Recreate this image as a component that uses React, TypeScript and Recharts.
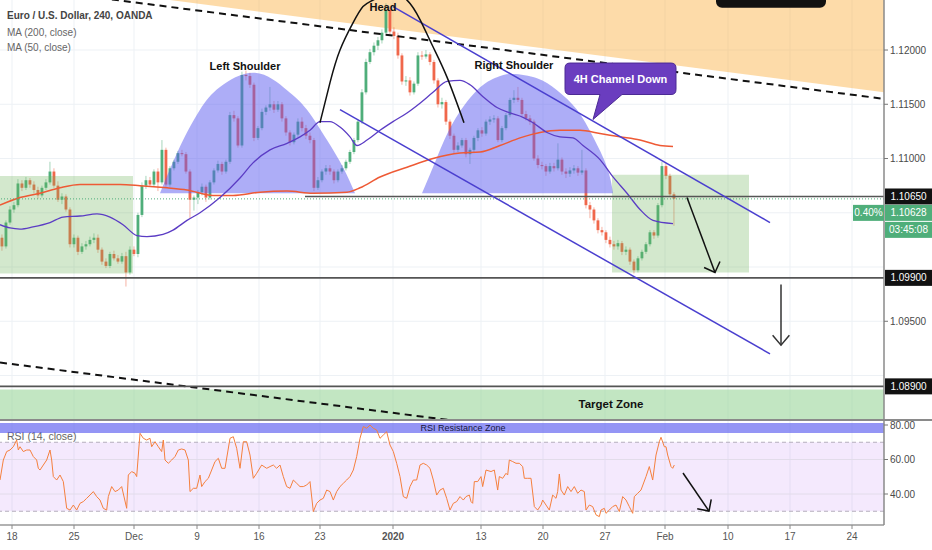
import React from "react";
import {
  Area,
  Bar,
  ComposedChart,
  Line,
  ReferenceArea,
  ReferenceDot,
  ReferenceLine,
  XAxis,
  YAxis,
} from "recharts";

const FONT = '"Liberation Sans", Arial, sans-serif';
const UP = "#4fae7a";
const DOWN = "#f0674b";
const X_DOMAIN: [number, number] = [-0.5, 220.5];
const PRICE_DOMAIN: [number, number] = [1.0859, 1.12461];
const RSI_DOMAIN: [number, number] = [22.03, 82.9];

// one candle = two 4H bars, [open, high, low, close]
const ohlc: [number, number, number, number][] = [
  [1.1027, 1.103, 1.1015, 1.1019], [1.1019, 1.1043, 1.1017, 1.1041], [1.1041, 1.1056, 1.1039, 1.1053],
  [1.1053, 1.106, 1.105, 1.1057], [1.1057, 1.1081, 1.1055, 1.1077], [1.1077, 1.108, 1.107, 1.1073],
  [1.1073, 1.1083, 1.1071, 1.108], [1.108, 1.1082, 1.1073, 1.1076], [1.1076, 1.1079, 1.1068, 1.1071],
  [1.1071, 1.1074, 1.1063, 1.1066], [1.1066, 1.1075, 1.1064, 1.1073], [1.1073, 1.1081, 1.1071, 1.1078],
  [1.1078, 1.1097, 1.1076, 1.1088], [1.1088, 1.1091, 1.1073, 1.1075], [1.1075, 1.1079, 1.106, 1.1062],
  [1.1062, 1.1068, 1.1058, 1.1065], [1.1065, 1.1067, 1.1051, 1.1053], [1.1053, 1.1055, 1.1018, 1.1021],
  [1.1021, 1.103, 1.1018, 1.1027], [1.1027, 1.1029, 1.1011, 1.1014], [1.1014, 1.1022, 1.1012, 1.1019],
  [1.1019, 1.1024, 1.1016, 1.1021], [1.1021, 1.1028, 1.1019, 1.1025], [1.1025, 1.1031, 1.1022, 1.1027],
  [1.1027, 1.103, 1.1013, 1.1016], [1.1016, 1.1018, 1.1002, 1.1005], [1.1005, 1.1008, 1.0999, 1.1001],
  [1.1001, 1.1014, 1.0999, 1.1012], [1.1012, 1.1015, 1.1006, 1.1008], [1.1008, 1.1011, 1.1003, 1.1005],
  [1.1005, 1.1013, 1.1003, 1.101], [1.101, 1.1014, 1.0982, 1.0995], [1.0995, 1.1019, 1.0993, 1.1016],
  [1.1016, 1.1019, 1.101, 1.1012], [1.1012, 1.105, 1.1009, 1.1048], [1.1048, 1.1078, 1.1046, 1.1075],
  [1.1075, 1.1084, 1.1072, 1.108], [1.108, 1.1083, 1.1074, 1.1076], [1.1076, 1.109, 1.1074, 1.1088],
  [1.1088, 1.1091, 1.107, 1.1078], [1.1078, 1.1117, 1.1076, 1.1108], [1.1108, 1.111, 1.1074, 1.1076],
  [1.1076, 1.1093, 1.1074, 1.1091], [1.1091, 1.1099, 1.1089, 1.1097], [1.1097, 1.1107, 1.1095, 1.1105],
  [1.1105, 1.1108, 1.1102, 1.1104], [1.1104, 1.1106, 1.1086, 1.1088], [1.1088, 1.109, 1.1045, 1.1062],
  [1.1062, 1.1066, 1.1052, 1.1064], [1.1064, 1.1071, 1.1058, 1.1069], [1.1069, 1.1077, 1.1066, 1.1074],
  [1.1074, 1.1076, 1.106, 1.1064], [1.1064, 1.108, 1.1062, 1.1078], [1.1078, 1.1091, 1.1076, 1.1089],
  [1.1089, 1.1098, 1.1087, 1.1095], [1.1095, 1.1097, 1.1085, 1.1088], [1.1088, 1.1099, 1.1086, 1.1097],
  [1.1097, 1.1143, 1.1095, 1.114], [1.114, 1.1144, 1.1134, 1.1137], [1.1137, 1.1139, 1.111, 1.1112],
  [1.1112, 1.118, 1.111, 1.1177], [1.1177, 1.1181, 1.1172, 1.1176], [1.1176, 1.1179, 1.1165, 1.1168],
  [1.1168, 1.117, 1.1116, 1.1119], [1.1119, 1.113, 1.1117, 1.1128], [1.1128, 1.1146, 1.1126, 1.1143],
  [1.1143, 1.1149, 1.114, 1.1147], [1.1147, 1.1166, 1.1144, 1.115], [1.115, 1.1153, 1.1142, 1.1145],
  [1.1145, 1.1153, 1.1143, 1.115], [1.115, 1.1152, 1.1134, 1.1137], [1.1137, 1.1139, 1.1121, 1.1124],
  [1.1124, 1.1126, 1.1112, 1.1115], [1.1115, 1.1124, 1.1113, 1.1122], [1.1122, 1.1137, 1.112, 1.1134],
  [1.1134, 1.1138, 1.1125, 1.1128], [1.1128, 1.1131, 1.1118, 1.1121], [1.1121, 1.1124, 1.1114, 1.1117],
  [1.1117, 1.1119, 1.107, 1.1073], [1.1073, 1.1083, 1.1071, 1.108], [1.108, 1.109, 1.1078, 1.1088],
  [1.1088, 1.1094, 1.1085, 1.1091], [1.1091, 1.1094, 1.1085, 1.1088], [1.1088, 1.109, 1.1077, 1.108],
  [1.108, 1.109, 1.1078, 1.1088], [1.1088, 1.1094, 1.1086, 1.1091], [1.1091, 1.1099, 1.1089, 1.1097],
  [1.1097, 1.1108, 1.1095, 1.1106], [1.1106, 1.1119, 1.1104, 1.1117], [1.1117, 1.1136, 1.1115, 1.1134],
  [1.1134, 1.1164, 1.1132, 1.1161], [1.1161, 1.1192, 1.1159, 1.1189], [1.1189, 1.1201, 1.1187, 1.1198],
  [1.1198, 1.1207, 1.1195, 1.1204], [1.1204, 1.1212, 1.12, 1.1209], [1.1209, 1.1219, 1.1206, 1.1216],
  [1.1216, 1.1243, 1.1214, 1.1237], [1.1237, 1.124, 1.1214, 1.1217], [1.1217, 1.1221, 1.121, 1.1213],
  [1.1213, 1.1216, 1.1192, 1.1195], [1.1195, 1.1197, 1.1168, 1.1171], [1.1171, 1.1176, 1.1167, 1.1172],
  [1.1172, 1.1175, 1.1158, 1.1161], [1.1161, 1.1171, 1.1159, 1.1169], [1.1169, 1.1198, 1.1167, 1.1195],
  [1.1195, 1.1199, 1.1191, 1.1194], [1.1194, 1.12, 1.1192, 1.1196], [1.1196, 1.1198, 1.1186, 1.1189],
  [1.1189, 1.1191, 1.1169, 1.1172], [1.1172, 1.1174, 1.1147, 1.115], [1.115, 1.1156, 1.1146, 1.1152],
  [1.1152, 1.1154, 1.1131, 1.1134], [1.1134, 1.1136, 1.1118, 1.1121], [1.1121, 1.1123, 1.1105, 1.1108],
  [1.1108, 1.1115, 1.1106, 1.1112], [1.1112, 1.1119, 1.111, 1.1117], [1.1117, 1.1119, 1.1101, 1.1104],
  [1.1104, 1.111, 1.1095, 1.1108], [1.1108, 1.1121, 1.1106, 1.1119], [1.1119, 1.1128, 1.1116, 1.1126],
  [1.1126, 1.1129, 1.112, 1.1123], [1.1123, 1.1136, 1.1121, 1.1134], [1.1134, 1.1139, 1.1131, 1.1136],
  [1.1136, 1.114, 1.1133, 1.1137], [1.1137, 1.1139, 1.1115, 1.1117], [1.1117, 1.113, 1.1115, 1.1128],
  [1.1128, 1.1142, 1.1126, 1.114], [1.114, 1.1156, 1.1138, 1.1154], [1.1154, 1.1163, 1.1151, 1.1156],
  [1.1156, 1.1166, 1.1152, 1.1154], [1.1154, 1.1156, 1.1139, 1.1141], [1.1141, 1.1144, 1.1135, 1.1137],
  [1.1137, 1.114, 1.1131, 1.1134], [1.1134, 1.1136, 1.1098, 1.11], [1.11, 1.1103, 1.1091, 1.1094],
  [1.1094, 1.1097, 1.109, 1.1093], [1.1093, 1.1095, 1.1084, 1.1088], [1.1088, 1.1096, 1.1086, 1.1093],
  [1.1093, 1.1096, 1.1088, 1.1091], [1.1091, 1.1114, 1.1089, 1.1099], [1.1099, 1.1101, 1.1085, 1.1088],
  [1.1088, 1.1091, 1.1082, 1.1086], [1.1086, 1.1092, 1.1083, 1.1089], [1.1089, 1.1094, 1.1086, 1.1091],
  [1.1091, 1.1093, 1.1084, 1.1087], [1.1087, 1.1108, 1.1085, 1.1089], [1.1089, 1.1091, 1.1054, 1.1057],
  [1.1057, 1.106, 1.1045, 1.1053], [1.1053, 1.1055, 1.104, 1.1043], [1.1043, 1.1045, 1.1031, 1.1034],
  [1.1034, 1.1037, 1.1029, 1.1032], [1.1032, 1.1034, 1.1022, 1.1025], [1.1025, 1.1028, 1.1018, 1.1021],
  [1.1021, 1.1024, 1.1016, 1.1019], [1.1019, 1.1025, 1.1016, 1.1022], [1.1022, 1.1024, 1.1011, 1.1014],
  [1.1014, 1.1019, 1.1011, 1.1016], [1.1016, 1.1018, 1.1002, 1.1005], [1.1005, 1.1007, 1.0994, 1.0997],
  [1.0997, 1.101, 1.0995, 1.1008], [1.1008, 1.1016, 1.1006, 1.1014], [1.1014, 1.1023, 1.1012, 1.1021],
  [1.1021, 1.1034, 1.1019, 1.1032], [1.1032, 1.1034, 1.1026, 1.1029], [1.1029, 1.1059, 1.1027, 1.1057],
  [1.1057, 1.1097, 1.1055, 1.1093], [1.1093, 1.1096, 1.1081, 1.1084], [1.1084, 1.1086, 1.1065, 1.1067],
  [1.1067, 1.1069, 1.1038, 1.1063],
];

// [candle index, value]
const ma200: [number, number][] = [
  [-0.5, 1.1057], [4.5, 1.1064], [9.5, 1.1068], [14.5, 1.1073], [19.5, 1.1076], [24.5, 1.1076],
  [29.5, 1.1076], [34.5, 1.1075], [41.25, 1.1073], [46.25, 1.1071], [52.75, 1.1066], [57.75, 1.1066],
  [64.5, 1.1069], [71.25, 1.107], [77.75, 1.1068], [86.25, 1.1069], [89.5, 1.1073], [94.5, 1.1083],
  [101.25, 1.1092], [107.75, 1.11], [114.5, 1.1105], [119.5, 1.1106], [124.5, 1.1112], [129.5, 1.1119],
  [134.5, 1.1124], [139.5, 1.1126], [144.5, 1.1126], [149.5, 1.1123], [154.5, 1.112], [159.5, 1.1117],
  [164.5, 1.1112], [167.75, 1.1111],
];

const ma50: [number, number][] = [
  [-0.5, 1.1039], [2, 1.1036], [4.5, 1.1035], [7.75, 1.1037], [12, 1.1041], [15.25, 1.1046],
  [19.5, 1.1047], [23.75, 1.1049], [27, 1.1046], [30.25, 1.1039], [33.75, 1.1029], [36.25, 1.1028],
  [40.25, 1.103], [42.75, 1.1034], [46.25, 1.1043], [49.5, 1.105], [54.5, 1.1064], [59.5, 1.1082],
  [62.75, 1.1096], [67, 1.1108], [71.25, 1.1114], [74.5, 1.112], [77, 1.1126], [79.5, 1.1134],
  [82, 1.1134], [84.5, 1.1129], [87, 1.112], [88.75, 1.1112], [91.25, 1.1117], [94.5, 1.1126],
  [97.75, 1.1134], [101.25, 1.1142], [104.5, 1.1151], [107.75, 1.1161], [111.25, 1.1171], [114.5, 1.1172],
  [117, 1.1168], [120.25, 1.1157], [123.75, 1.1147], [127, 1.1142], [130.25, 1.1138], [132.75, 1.1133],
  [136.25, 1.1124], [139.5, 1.112], [142.75, 1.1119], [145.25, 1.1112], [149.5, 1.1099], [152.75, 1.1083],
  [156.25, 1.1068], [159.5, 1.1053], [162.75, 1.1043], [167.75, 1.104],
];

const rsi14: [number, number][] = [
  [-0.5, 48.1], [0.33, 59.7], [1.17, 64.6], [2, 65.5], [2.83, 67.4], [3.67, 71.3], [4.08, 65.5], [4.5, 67.4],
  [5.33, 64.6], [6.17, 65.5], [7, 65.5], [7.83, 61.7], [8.67, 59.7], [9.08, 54.9], [9.5, 53.9], [10.33, 56.8],
  [11.17, 59.7], [12, 65.5], [12.42, 59.7], [12.83, 50.1], [13.67, 48.1], [14.5, 51], [15.33, 47.2],
  [16.17, 31.7], [17, 30.7], [17.83, 33.6], [18.67, 30.7], [19.5, 34.6], [20.33, 35.6], [21.17, 37.5],
  [22, 39.4], [22.83, 41.4], [23.67, 38.5], [24.5, 36.5], [25.33, 31.7], [26.17, 30.7], [26.58, 38.5],
  [27.42, 44.3], [28.25, 41.4], [29.08, 42.3], [29.92, 44.3], [31.17, 31.7], [31.58, 51], [32.42, 53],
  [33.25, 52], [33.67, 50.1], [34.5, 75.2], [35.33, 72.3], [36.17, 71.3], [37, 72.3], [37.42, 67.4],
  [38.25, 70.3], [39.08, 67.4], [39.92, 64.6], [40.33, 71.3], [40.75, 59.7], [41.58, 57.8], [42.42, 59.7],
  [43.25, 61.7], [44.08, 65.5], [44.92, 66.1], [45.75, 65.5], [46.58, 59.7], [47, 41.4], [47.83, 43.3],
  [48.67, 43.3], [49.5, 51], [49.92, 44.3], [50.75, 47.2], [51.58, 49.1], [52.42, 53.9], [53.25, 58.8],
  [54.08, 60.7], [54.92, 54.9], [55.75, 54.9], [57, 72.3], [57.83, 73.2], [58.67, 66.5], [59.5, 54.9],
  [60.33, 70.3], [61.17, 70.3], [62, 62.6], [62.83, 49.1], [63.67, 52], [64.92, 56.8], [66.17, 54.9],
  [67, 55.9], [67.83, 56.8], [68.67, 54.9], [69.5, 56.8], [70.33, 50.1], [71.17, 44.3], [72, 43.3],
  [72.83, 48.1], [73.67, 46.2], [74.5, 44.3], [75.33, 44.3], [76.17, 45.2], [77, 47.2], [77.83, 29.8],
  [78.67, 34.6], [79.5, 36.5], [80.33, 37.5], [81.17, 42.3], [82, 41.4], [82.83, 36.5], [83.67, 41.4],
  [84.5, 44.3], [85.33, 46.2], [86.17, 48.1], [87, 50.1], [87.83, 53.9], [88.67, 61.7], [89.5, 72.3],
  [90.33, 79.1], [91.17, 78.1], [92, 80], [92.83, 78.1], [93.67, 77.1], [94.5, 72.3], [95.33, 74.2],
  [96.17, 76.1], [97, 68.4], [97.83, 64.6], [98.67, 57.8], [99.5, 50.1], [100.33, 38.5], [101.17, 37.5],
  [102, 44.3], [102.83, 48.1], [103.67, 48.1], [104.5, 56.8], [105.33, 57.8], [106.17, 56.8], [107, 54.9],
  [107.83, 48.1], [108.67, 39.4], [109.5, 42.3], [110.33, 43.3], [111.17, 37.5], [112, 30.7], [112.83, 34.6],
  [113.67, 35.6], [114.5, 38.5], [115.33, 36.5], [116, 38.5], [116.83, 39.4], [117.25, 35.6], [117.67, 34.6],
  [118.08, 47.2], [118.92, 47.2], [119.75, 50.1], [120.17, 44.3], [121, 53.9], [122.25, 53], [123.08, 53.9],
  [123.92, 42.3], [124.33, 50.1], [125.17, 49.1], [126, 52], [126.42, 51], [126.83, 59.7], [127.67, 58.8],
  [128.5, 57.8], [129.33, 57.8], [130.17, 55.9], [130.58, 49.1], [131.42, 49.1], [132.25, 49.1],
  [133.08, 32.7], [133.92, 30.7], [134.75, 33.6], [135.17, 36.5], [136, 33.6], [136.83, 30.7], [137.67, 39.4],
  [138.5, 37.5], [138.92, 41.4], [139.33, 51.6], [139.75, 42.3], [140.58, 39.4], [141.42, 44.3],
  [142.25, 41.4], [143.08, 44.3], [143.92, 40.4], [144.75, 42.3], [145.58, 41.4], [146, 30.7], [146.83, 33.6],
  [147.67, 32.7], [148.5, 27.9], [149.33, 26.9], [149.75, 30.7], [150.58, 31.7], [151, 28.8], [151.83, 30.7],
  [152.67, 32.7], [153.5, 33.6], [154.33, 29.8], [155.17, 38.5], [156, 36.5], [156.83, 32.7], [157.67, 28.8],
  [158.08, 38.5], [158.92, 40.4], [159.75, 42.3], [161, 50.1], [161.83, 55.9], [162.67, 48.1], [163.5, 62.6],
  [164.33, 70.3], [164.75, 72.9], [165.58, 67.4], [166, 67.4], [166.42, 62.6], [167.25, 55.9], [167.67, 54.9],
  [168.08, 56.8],
];

// head and shoulders drawing
const leftShoulder: [number, number][] = [
  [39.5, 1.1068], [44.5, 1.1111], [49.5, 1.1145], [54.5, 1.1166], [63.25, 1.1179], [71.25, 1.1163],
  [76.25, 1.1145], [81.25, 1.1117], [85.25, 1.1092], [88.25, 1.1068],
];
const rightShoulder: [number, number][] = [
  [105, 1.1068], [108.75, 1.1101], [112.75, 1.1133], [118.75, 1.1163], [123.75, 1.1175], [127.75, 1.1178],
  [133.75, 1.1174], [138.75, 1.1163], [143.75, 1.1145], [147.75, 1.112], [151.25, 1.1092], [152.75, 1.1068],
];
const headArc: [number, number][] = [
  [79.5, 1.1133], [82, 1.117], [84.5, 1.12], [87.75, 1.1225], [90.25, 1.124], [92.75, 1.1246],
  [97, 1.1252], [101.25, 1.1246], [104.5, 1.1228], [107.75, 1.1203], [111.25, 1.1175], [115.5, 1.1133],
];
const SHOULDER_BASE = 1.1068;

const dateTicks = [2.5, 18, 33, 48.75, 64.25, 79.5, 97.75, 119.75, 135.25, 150.75, 165.75, 181.5, 197, 212.5];
const dateLabels = ["18", "25", "Dec", "9", "16", "23", "2020", "13", "20", "27", "Feb", "10", "17", "24"];
const priceTicks = [1.095, 1.11, 1.115, 1.12];
const priceGrid = [1.09, 1.095, 1.1, 1.105, 1.11, 1.115, 1.12];
const rsiTicks = [40, 60, 80];

const candles = ohlc.map(([o, h, l, c], i) => ({ i, o, h, l, c, range: [l, h] }));
const toPoints = (rows: [number, number][]) => rows.map(([i, v]) => ({ i, v }));

const Candle = (props: any) => {
  const { x, y, width, height, payload } = props;
  if (!payload || height == null) return null;
  const { o, h, l, c } = payload;
  const color = c >= o ? UP : DOWN;
  const k = height / (h - l || 1e-9);
  const top = y + (h - Math.max(o, c)) * k;
  const bot = y + (h - Math.min(o, c)) * k;
  const cx = x + width / 2;
  return (
    <g>
      <line x1={cx} x2={cx} y1={y} y2={y + height} stroke={color} strokeOpacity={0.5} strokeWidth={1} />
      <rect x={cx - 1.4} y={top} width={2.8} height={Math.max(1, bot - top)} fill={color} />
    </g>
  );
};

const arrowShape = (len: number, spread: number) => (p: any) => {
  const { x1, y1, x2, y2, stroke, strokeWidth } = p;
  const a = Math.atan2(y2 - y1, x2 - x1);
  const hx1 = x2 - len * Math.cos(a - spread);
  const hy1 = y2 - len * Math.sin(a - spread);
  const hx2 = x2 - len * Math.cos(a + spread);
  const hy2 = y2 - len * Math.sin(a + spread);
  return (
    <g stroke={stroke} strokeWidth={strokeWidth} fill="none">
      <line x1={x1} y1={y1} x2={x2} y2={y2} />
      <polyline points={`${hx1},${hy1} ${x2},${y2} ${hx2},${hy2}`} />
    </g>
  );
};

const textShape =
  (text: string, size: number, weight: number, color: string, anchor = "middle") =>
  (p: any) => (
    <text
      x={p.cx}
      y={p.cy}
      textAnchor={anchor}
      dominantBaseline="central"
      fontSize={size}
      fontWeight={weight}
      fill={color}
      fontFamily={FONT}
    >
      {text}
    </text>
  );

const tagShape =
  (text: string, bg: string, dy = 0, left = false) =>
  (p: any) => {
    const w = left ? 31 : 47;
    const x = left ? p.cx - 31 : p.cx + 1;
    const y = p.cy + dy - 8;
    return (
      <g>
        <rect x={x} y={y} width={w} height={16} fill={bg} />
        <text
          x={x + w / 2}
          y={y + 8}
          textAnchor="middle"
          dominantBaseline="central"
          fontSize={10}
          fill="#fff"
          fontFamily={FONT}
        >
          {text}
        </text>
      </g>
    );
  };

const CalloutShape = (p: any) => {
  const { x, y, width: w, height: h } = p;
  const r = 5;
  const d = `M${x + r},${y} H${x + w - r} Q${x + w},${y} ${x + w},${y + r} V${y + h - r} Q${x + w},${y + h} ${
    x + w - r
  },${y + h} H${x + 57} L${x + 28},${y + h + 25} L${x + 35},${y + h} H${x + r} Q${x},${y + h} ${x},${
    y + h - r
  } V${y + r} Q${x},${y} ${x + r},${y} Z`;
  return (
    <g>
      <path d={d} fill="#6a3dbf" stroke="#4b2a94" strokeWidth={1} />
      <text
        x={x + w / 2}
        y={y + h / 2}
        textAnchor="middle"
        dominantBaseline="central"
        fontSize={11}
        fontWeight={700}
        fill="#fff"
        fontFamily={FONT}
      >
        4H Channel Down
      </text>
    </g>
  );
};

const BannerShape = (p: any) => (
  <rect x={p.x} y={p.y - 10} width={p.width} height={p.height + 10} rx={6} fill="#111" />
);

const DateTick = (p: any) => {
  const { x, y, payload } = p;
  const label = dateLabels[dateTicks.indexOf(payload.value)] ?? "";
  return (
    <text
      x={x}
      y={y + 9}
      textAnchor="middle"
      fontSize={10}
      fill="#555"
      fontWeight={label === "2020" ? 700 : 400}
      fontFamily={FONT}
    >
      {label}
    </text>
  );
};

const GRID = "#edf1f5";

export default function App() {
  return (
    <div
      style={{
        position: "absolute",
        left: 0,
        top: 0,
        width: 932,
        height: 550,
        background: "#fff",
        fontFamily: FONT,
        overflow: "hidden",
      }}
    >
      <div style={{ position: "absolute", left: 0, top: 0 }}>
        <ComposedChart width={932} height={420} data={candles} margin={{ top: 0, right: 0, bottom: 0, left: 0 }}>
          <XAxis type="number" dataKey="i" domain={X_DOMAIN} allowDataOverflow hide />
          <YAxis
            orientation="right"
            width={48}
            type="number"
            domain={PRICE_DOMAIN}
            allowDataOverflow
            ticks={priceTicks}
            interval={0}
            tickFormatter={(v: number) => v.toFixed(5)}
            tick={{ fontSize: 10, fill: "#4a4a4a" }}
            tickSize={4}
            tickLine={{ stroke: "#777" }}
            axisLine={{ stroke: "#8a8a8a", strokeWidth: 1.5 }}
          />
          {dateTicks.map((t) => (
            <ReferenceLine key={`vx${t}`} x={t} stroke={GRID} strokeWidth={1} zIndex={1} />
          ))}
          {priceGrid.map((t) => (
            <ReferenceLine key={`hy${t}`} y={t} stroke={GRID} strokeWidth={1} zIndex={1} />
          ))}
          <Area
            data={[
              { i: 42, band: [1.1246, 1.1252] },
              { i: 220.5, band: [1.1161, 1.1252] },
            ]}
            dataKey="band"
            type="linear"
            stroke="none"
            fill="#fbb040"
            fillOpacity={0.45}
            isAnimationActive={false}
            dot={false}
            activeDot={false}
            zIndex={5}
          />
          <Bar dataKey="range" barSize={4} shape={Candle} isAnimationActive={false} zIndex={10} />
          <ReferenceArea x1={-0.5} x2={32.75} y1={1.0994} y2={1.1084} fill="#6eb45a" fillOpacity={0.3} stroke="none" zIndex={20} />
          <ReferenceArea x1={152.5} x2={186.75} y1={1.0995} y2={1.1085} fill="#6eb45a" fillOpacity={0.3} stroke="none" zIndex={20} />
          <ReferenceArea x1={-0.5} x2={220.5} y1={1.0859} y2={1.0887} fill="#8fd18f" fillOpacity={0.55} stroke="none" zIndex={20} />
          <ReferenceLine
            segment={[{ x: 24.5, y: 1.1248 }, { x: 220.5, y: 1.1155 }]}
            stroke="#111"
            strokeWidth={2}
            strokeDasharray="7 5"
            ifOverflow="hidden"
            zIndex={22}
          />
          <ReferenceLine
            segment={[{ x: -0.5, y: 1.0912 }, { x: 113.75, y: 1.0858 }]}
            stroke="#111"
            strokeWidth={2}
            strokeDasharray="7 5"
            ifOverflow="hidden"
            zIndex={22}
          />
          <Area
            data={toPoints(leftShoulder)}
            dataKey="v"
            type="natural"
            baseValue={SHOULDER_BASE}
            stroke="none"
            fill="#5b5cf0"
            fillOpacity={0.5}
            isAnimationActive={false}
            dot={false}
            activeDot={false}
            zIndex={25}
          />
          <Area
            data={toPoints(rightShoulder)}
            dataKey="v"
            type="natural"
            baseValue={SHOULDER_BASE}
            stroke="none"
            fill="#5b5cf0"
            fillOpacity={0.5}
            isAnimationActive={false}
            dot={false}
            activeDot={false}
            zIndex={25}
          />
          <Line
            data={toPoints(ma200)}
            dataKey="v"
            type="monotone"
            stroke="#ee5a35"
            strokeWidth={1.5}
            dot={false}
            activeDot={false}
            isAnimationActive={false}
            zIndex={30}
          />
          <Line
            data={toPoints(ma50)}
            dataKey="v"
            type="monotone"
            stroke="#5b3cc4"
            strokeWidth={1.3}
            dot={false}
            activeDot={false}
            isAnimationActive={false}
            zIndex={30}
          />
          <ReferenceLine y={1.10628} stroke={UP} strokeDasharray="1 2" strokeWidth={1} zIndex={35} />
          <ReferenceLine
            segment={[{ x: 75.75, y: 1.1065 }, { x: 220.5, y: 1.1065 }]}
            stroke="#555"
            strokeWidth={1.6}
            zIndex={36}
          />
          <ReferenceLine y={1.099} stroke="#555" strokeWidth={1.6} zIndex={36} />
          <ReferenceLine y={1.089} stroke="#555" strokeWidth={1.6} zIndex={36} />
          <ReferenceLine
            segment={[{ x: 97.75, y: 1.124 }, { x: 192, y: 1.1041 }]}
            stroke="#4a3fcf"
            strokeWidth={1.5}
            zIndex={40}
          />
          <ReferenceLine
            segment={[{ x: 84.5, y: 1.1145 }, { x: 192, y: 1.092 }]}
            stroke="#4a3fcf"
            strokeWidth={1.5}
            zIndex={40}
          />
          <Line
            data={toPoints(headArc)}
            dataKey="v"
            type="natural"
            stroke="#111"
            strokeWidth={1.5}
            dot={false}
            activeDot={false}
            isAnimationActive={false}
            zIndex={45}
          />
          <ReferenceLine
            segment={[{ x: 171.25, y: 1.1064 }, { x: 178.25, y: 1.0995 }]}
            stroke="#111"
            strokeWidth={1.5}
            shape={arrowShape(12, Math.PI / 4)}
            zIndex={50}
          />
          <ReferenceLine
            segment={[{ x: 194.75, y: 1.0984 }, { x: 194.75, y: 1.0928 }]}
            stroke="#333"
            strokeWidth={1.5}
            shape={arrowShape(13, 0.7)}
            zIndex={50}
          />
          <ReferenceArea x1={140.75} x2={168.5} y1={1.1159} y2={1.1188} shape={CalloutShape} zIndex={55} />
          <ReferenceArea x1={178.5} x2={206} y1={1.1239} y2={1.12461} shape={BannerShape} zIndex={55} />
          <ReferenceDot x={60.75} y={1.1185} r={0} shape={textShape("Left Shoulder", 11, 700, "#111")} zIndex={60} />
          <ReferenceDot x={128} y={1.1186} r={0} shape={textShape("Right Shoulder", 11, 700, "#111")} zIndex={60} />
          <ReferenceDot x={95.25} y={1.124} r={0} shape={textShape("Head", 11, 700, "#111")} zIndex={60} />
          <ReferenceDot x={152.25} y={1.0874} r={0} shape={textShape("Target Zone", 11.5, 700, "#111")} zIndex={60} />
          <ReferenceDot x={220.5} y={1.1065} r={0} shape={tagShape("1.10650", "#111")} zIndex={3000} />
          <ReferenceDot x={220.5} y={1.10628} r={0} shape={tagShape("1.10628", UP, 14)} zIndex={3000} />
          <ReferenceDot x={220.5} y={1.10628} r={0} shape={tagShape("0.40%", UP, 14, true)} zIndex={3000} />
          <ReferenceDot x={220.5} y={1.10628} r={0} shape={tagShape("03:45:08", UP, 31)} zIndex={3000} />
          <ReferenceDot x={220.5} y={1.099} r={0} shape={tagShape("1.09900", "#111")} zIndex={3000} />
          <ReferenceDot x={220.5} y={1.089} r={0} shape={tagShape("1.08900", "#111")} zIndex={3000} />
        </ComposedChart>
      </div>

      <div style={{ position: "absolute", left: 0, top: 420 }}>
        <ComposedChart width={932} height={130} data={toPoints(rsi14)} margin={{ top: 0, right: 0, bottom: 0, left: 0 }}>
          <XAxis
            type="number"
            dataKey="i"
            domain={X_DOMAIN}
            allowDataOverflow
            ticks={dateTicks}
            interval={0}
            height={25}
            tick={DateTick}
            tickSize={4}
            tickLine={{ stroke: "#888" }}
            axisLine={{ stroke: "#999", strokeWidth: 1.5 }}
          />
          <YAxis
            orientation="right"
            width={48}
            type="number"
            domain={RSI_DOMAIN}
            allowDataOverflow
            ticks={rsiTicks}
            interval={0}
            tickFormatter={(v: number) => v.toFixed(2)}
            tick={{ fontSize: 10, fill: "#4a4a4a" }}
            tickSize={4}
            tickLine={{ stroke: "#777" }}
            axisLine={{ stroke: "#8a8a8a", strokeWidth: 1.5 }}
          />
          {dateTicks.map((t) => (
            <ReferenceLine key={`rx${t}`} x={t} stroke={GRID} strokeWidth={1} zIndex={1} />
          ))}
          <ReferenceArea x1={-0.5} x2={220.5} y1={30} y2={70} fill="#b36cf0" fillOpacity={0.15} stroke="none" zIndex={2} />
          <ReferenceLine y={60} stroke="#e2dcea" strokeWidth={1} zIndex={3} />
          <ReferenceLine y={40} stroke="#e2dcea" strokeWidth={1} zIndex={3} />
          <ReferenceLine y={70} stroke="#b5aebd" strokeDasharray="4 3" strokeWidth={1} zIndex={3} />
          <ReferenceLine y={30} stroke="#b5aebd" strokeDasharray="4 3" strokeWidth={1} zIndex={3} />
          <ReferenceDot x={1.25} y={73.6} r={0} shape={textShape("RSI (14, close)", 10.5, 400, "#666", "start")} zIndex={4} />
          <ReferenceArea x1={-0.5} x2={220.5} y1={75.4} y2={81.2} fill="#5b5cf0" fillOpacity={0.65} stroke="none" zIndex={5} />
          <ReferenceDot x={115.25} y={78.1} r={0} shape={textShape("RSI Resistance Zone", 9, 400, "#151540")} zIndex={6} />
          <Line
            dataKey="v"
            type="linear"
            stroke="#f5803e"
            strokeWidth={1}
            dot={false}
            activeDot={false}
            isAnimationActive={false}
            zIndex={10}
          />
          <ReferenceLine
            segment={[{ x: 170.25, y: 52.2 }, { x: 176.75, y: 30.1 }]}
            stroke="#111"
            strokeWidth={1.5}
            shape={arrowShape(12, Math.PI / 4)}
            zIndex={20}
          />
        </ComposedChart>
      </div>

      <div style={{ position: "absolute", left: 0, top: 419, width: 932, height: 1.5, background: "#8a8a8a" }} />

      <div style={{ position: "absolute", left: 7, top: 10, fontSize: 10, fontWeight: 700, color: "#444", whiteSpace: "nowrap" }}>
        Euro / U.S. Dollar, 240, OANDA
      </div>
      <div style={{ position: "absolute", left: 7, top: 27, fontSize: 10, color: "#666", whiteSpace: "nowrap" }}>
        MA (200, close)
      </div>
      <div style={{ position: "absolute", left: 7, top: 42, fontSize: 10, color: "#666", whiteSpace: "nowrap" }}>
        MA (50, close)
      </div>
    </div>
  );
}
